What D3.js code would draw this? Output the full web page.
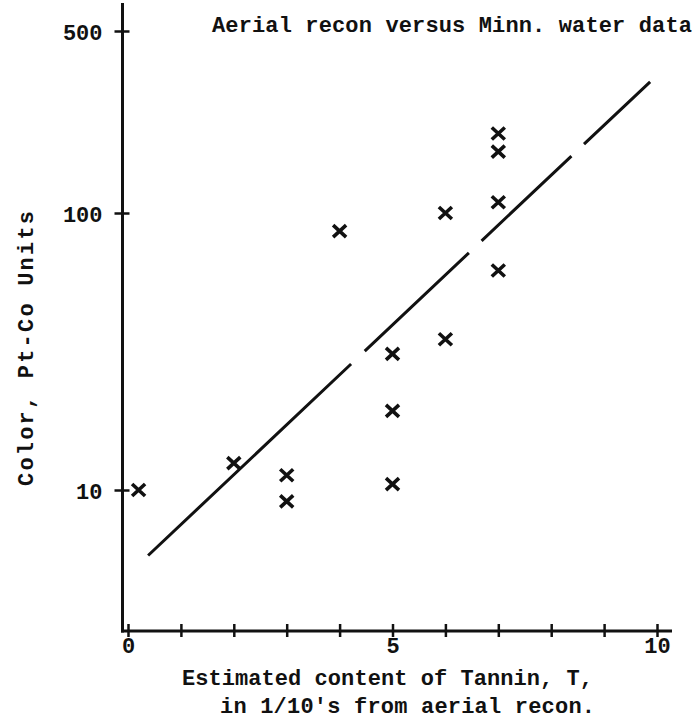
<!DOCTYPE html>
<html><head><meta charset="utf-8">
<script src="https://cdn.jsdelivr.net/npm/d3@7"></script>
<style>
html,body{margin:0;padding:0;background:#fff;}
svg{display:block;}
text{font-family:"Liberation Mono","DejaVu Sans Mono",monospace;font-weight:bold;fill:#111;}
</style></head>
<body>
<svg id="chart" width="695" height="725"></svg>
<script>
// ---- data ----
const title = "Aerial recon versus Minn. water data";
const xTitle1 = "Estimated content of Tannin, T,";
const xTitle2 = "in 1/10's from aerial recon.";
const yTitle = "Color, Pt-Co Units";
const xTickValues = [0,1,2,3,4,5,6,7,8,9,10];
const xTickLabels = ["0","","","","","5","","","","","10"];
const yTickValues = [10,100,500];
const yTickLabels = ["10","100","500"];
const tanninX = [0.2, 2, 3, 3, 4, 5, 5, 5, 6, 6, 7, 7, 7, 7];
const colorY  = [10, 12.5, 11.3, 9.1, 86, 31, 19.3, 10.5, 100, 35, 62, 110, 172, 202];
const fitX = [0.38, 9.87];
const fitY = [5.8, 319];

// ---- scales ----
const svg = d3.select("#chart");
const x = d3.scaleLinear().domain([0,10]).range([128,657]);
const y = d3.scaleLog().domain([10,100,500]).range([490,213,31]);
const axisX = 122.5, axisY = 631;
const FS = 22;

// axis lines
svg.append("line").attr("x1",axisX).attr("x2",axisX).attr("y1",3).attr("y2",axisY+1.5)
  .attr("stroke","#111").attr("stroke-width",3);
svg.append("line").attr("x1",axisX-1.5).attr("x2",672).attr("y1",axisY).attr("y2",axisY)
  .attr("stroke","#111").attr("stroke-width",3);

// x axis ticks
const gx = svg.append("g").attr("transform",`translate(0,${axisY})`)
  .call(d3.axisBottom(x).tickValues(xTickValues).tickSize(6).tickPadding(0)
    .tickFormat((d,i)=>xTickLabels[i]));
gx.select(".domain").remove();
gx.selectAll(".tick line").attr("y1",-7).attr("y2",6).attr("stroke","#111").attr("stroke-width",2.5);
gx.selectAll(".tick text").attr("y",22).attr("dy",0).attr("font-size",FS)
  .style("font-family",'"Liberation Mono",monospace').style("font-weight","bold").attr("fill","#111");

// y axis ticks
const gy = svg.append("g").attr("transform",`translate(${axisX},0)`)
  .call(d3.axisLeft(y).tickValues(yTickValues).tickSize(8).tickPadding(0)
    .tickFormat((d,i)=>yTickLabels[i]));
gy.select(".domain").remove();
gy.selectAll(".tick line").attr("x1",-8).attr("x2",7).attr("stroke","#111").attr("stroke-width",2.5);
gy.selectAll(".tick text").attr("x",-20).attr("dy","0.38em").attr("font-size",FS)
  .style("font-family",'"Liberation Mono",monospace').style("font-weight","bold").attr("fill","#111");

// fitted line (dashed with irregular gaps)
const line = d3.line().x(d=>x(d[0])).y(d=>y(d[1]));
const fit = svg.append("path").datum(fitX.map((v,i)=>[v,fitY[i]]))
  .attr("d",line).attr("fill","none").attr("stroke","#111").attr("stroke-width",3);
const L = fit.node().getTotalLength();
const gapFr = [[0.4043,0.4315],[0.639,0.6643],[0.8432,0.8683]];
let dash = [], pos = 0;
gapFr.forEach(g=>{ dash.push(g[0]*L-pos, (g[1]-g[0])*L); pos = g[1]*L; });
dash.push(L-pos+5, 0);
fit.attr("stroke-dasharray",dash.join(","));

// markers
svg.append("g").selectAll("path").data(tanninX.map((v,i)=>[v,colorY[i]])).join("path")
  .attr("transform",d=>`translate(${x(d[0])},${y(d[1])})`)
  .attr("d","M-6.5,-6L6.5,6M-6.5,6L6.5,-6")
  .attr("stroke","#111").attr("stroke-width",3.6).attr("fill","none");

// titles
svg.append("text").attr("x",212).attr("y",32).attr("font-size",FS)
  .attr("textLength",480).attr("lengthAdjust","spacing").text(title);
svg.append("text").attr("x",182).attr("y",685).attr("font-size",FS)
  .attr("textLength",411).attr("lengthAdjust","spacing").text(xTitle1);
svg.append("text").attr("x",220).attr("y",713).attr("font-size",FS)
  .attr("textLength",375).attr("lengthAdjust","spacing").text(xTitle2);
svg.append("text").attr("transform","translate(33,0) rotate(-90)")
  .attr("x",-486).attr("y",0).attr("font-size",FS)
  .attr("textLength",275).attr("lengthAdjust","spacing").text(yTitle);
</script>
</body></html>
